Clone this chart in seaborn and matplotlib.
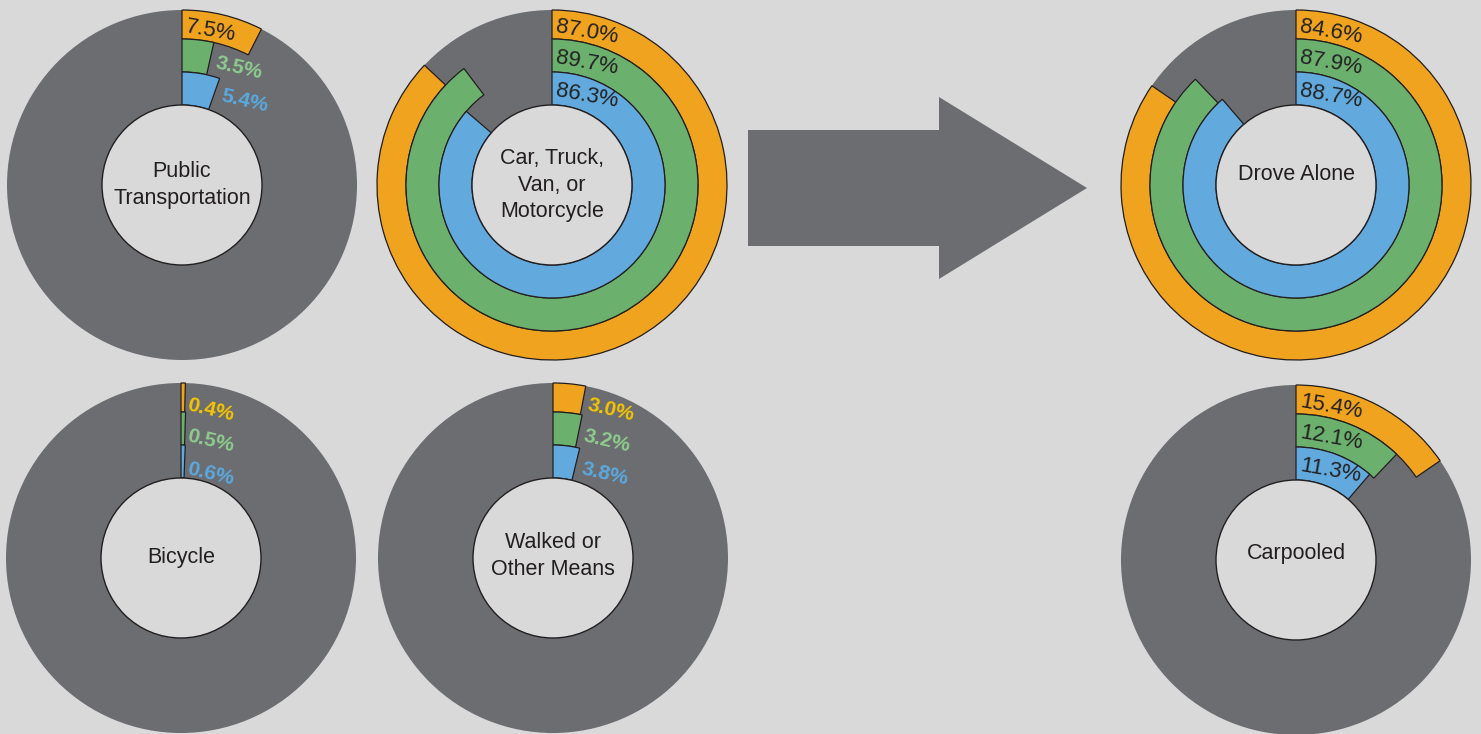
import numpy as np
import matplotlib
matplotlib.use("Agg")
import matplotlib.pyplot as plt
from matplotlib.patches import Circle
import seaborn as sns

# commute mode share by ring (outer = orange, middle = green, inner = blue)
modes = ["Public\nTransportation", "Car, Truck,\nVan, or\nMotorcycle", "Drove Alone",
         "Bicycle", "Walked or\nOther Means", "Carpooled"]
outer_pct = [7.5, 87.0, 84.6, 0.4, 3.0, 15.4]
middle_pct = [3.5, 89.7, 87.9, 0.5, 3.2, 12.1]
inner_pct = [5.4, 86.3, 88.7, 0.6, 3.8, 11.3]

# layout (image pixel coords, y down)
W, H = 1481, 734
centers = [(182, 185), (552, 185), (1296, 185), (181, 558), (553, 558), (1296, 560)]
label_dy = [0, 0, -10, 0, -2, -7]
R_HOLE = 80
RINGS = [(146, 175), (113, 146), (80, 113)]  # (inner, outer) radius for orange, green, blue

BG = "#d9d9d9"
GRAY = "#6c6d71"
EDGE = "#231f20"
ring_colors = sns.color_palette(["#f0a31e", "#6cb06e", "#62aade"])
outside_text = ["#f5c400", "#8dcc8d", "#5aa9e0"]

sns.set_theme(style="white")
plt.rcParams["font.family"] = ["Liberation Sans", "DejaVu Sans"]

fig = plt.figure(figsize=(W / 100, H / 100), dpi=100, facecolor=BG)
ax = fig.add_axes([0, 0, 1, 1])
ax.set_facecolor(BG)

for i, mode in enumerate(modes):
    cx, cy_img = centers[i]
    cy = H - cy_img

    # gray background disk
    ax.pie([1], radius=175, center=(cx, cy), colors=[GRAY], frame=True,
           wedgeprops=dict(linewidth=0))

    vals = [outer_pct[i], middle_pct[i], inner_pct[i]]
    for k, v in enumerate(vals):
        rin, rout = RINGS[k]
        wedges, _ = ax.pie([v, 100 - v], radius=rout, center=(cx, cy), startangle=90,
                           counterclock=False, colors=[ring_colors[k], "none"], frame=True,
                           wedgeprops=dict(width=rout - rin, edgecolor=EDGE, linewidth=0.9))
        wedges[1].set_visible(False)

        rmid = (rin + rout) / 2
        theta = np.deg2rad(v * 3.6)
        txt = f"{v:.1f}%"
        if theta * rmid > 55:
            ax.text(cx + 4, cy + rmid - 2, txt, ha="left", va="center", fontsize=16,
                    color="#222222", rotation=-10, rotation_mode="anchor")
        else:
            x0 = cx + rout * np.sin(theta) + 2
            ax.text(x0, cy + rmid - 7, txt, ha="left", va="center", fontsize=15,
                    fontweight="bold", color=outside_text[k], rotation=-13,
                    rotation_mode="anchor")

    ax.add_patch(Circle((cx, cy), R_HOLE, facecolor=BG, edgecolor=EDGE, linewidth=1.0, zorder=3))
    ax.text(cx, cy - label_dy[i], mode, ha="center", va="center", fontsize=15.5,
            color="#231f20", linespacing=1.35, zorder=4)

# arrow from combined mode to its breakdown
arrow_x = [748, 939, 939, 1087, 939, 939, 748]
arrow_y = [130, 130, 97, 188, 279, 246, 246]
ax.fill(arrow_x, [H - y for y in arrow_y], color=GRAY, linewidth=0)

ax.set_xlim(0, W)
ax.set_ylim(0, H)
ax.set_aspect("equal")
ax.axis("off")

fig.savefig("out.png", dpi=100, facecolor=BG)
